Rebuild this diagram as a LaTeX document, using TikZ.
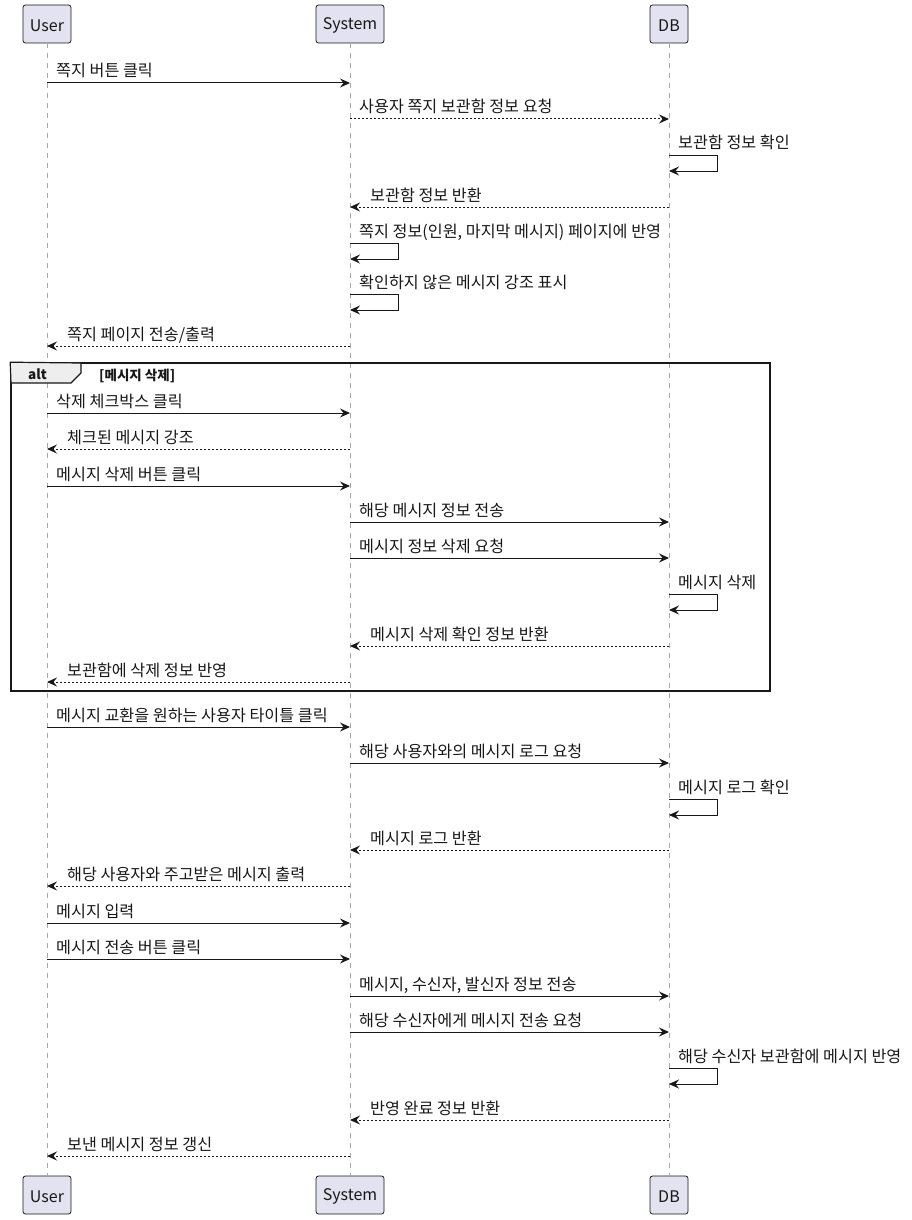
\documentclass[tikz,border=0pt]{standalone}
\usepackage{fontspec}
\setmainfont{Noto Sans CJK KR}
\usetikzlibrary{arrows.meta}
\definecolor{ink}{HTML}{181818}
\definecolor{partfill}{HTML}{E2E2F0}
\definecolor{lifegray}{HTML}{A8A8A8}
\definecolor{tabfill}{HTML}{EEEEEE}
\tikzset{
  part/.style={draw=ink, fill=partfill, rounded corners=2.5pt, line width=0.8pt, inner sep=0pt, text=ink},
  plabel/.style={inner sep=0pt, font=\fontsize{16}{18}\selectfont, text=ink},
  life/.style={draw=lifegray, line width=0.9pt, dash pattern=on 5pt off 5pt},
  solidmsg/.style={draw=ink, line width=1pt, -{Stealth[length=10pt,width=9pt,inset=3.5pt]}},
  dashmsg/.style={draw=ink, line width=1pt, dash pattern=on 2pt off 2pt, -{Stealth[length=10pt,width=9pt,inset=3.5pt]}},
  lbl/.style={anchor=base west, inner sep=0pt, font=\fontsize{16.2}{18}\selectfont, text=ink},
}
\newcommand\msgR[6]{%
  \coordinate (#1s) at (#2,#4);
  \coordinate (#1e) at (#3,#4);
  \draw[#5] (#1s) -- (#1e);
  \node[lbl] (#1t) at (#2+9,#4-6) {#6};
}
\newcommand\msgL[6]{%
  \coordinate (#1s) at (#2,#4);
  \coordinate (#1e) at (#3,#4);
  \draw[#5] (#1s) -- (#1e);
  \node[lbl] (#1t) at (#3+20,#4-6) {#6};
}
\newcommand\selfmsg[4]{%
  \coordinate (#1s) at (#2,#3);
  \coordinate (#1e) at (#2,#3+16);
  \draw[solidmsg] (#1s) -- ++(48,0) |- (#1e);
  \node[lbl] (#1t) at (#2+9,#3-6) {#4};
}
\newcommand\participant[5]{% name, x, y, width, text
  \node[part, minimum width=#4pt, minimum height=38pt] (#1) at (#2,#3) {};
  \node[plabel] (#1l) at (#2,#3+1.5) {#5};
}
\begin{document}
\begin{tikzpicture}[x=1pt,y=-1pt]
\useasboundingbox (0,0) rectangle (911,1220);
% participants
\participant{ut}{47}{24}{48}{User}
\participant{st}{350}{24}{68}{System}
\participant{dt}{669}{24}{38}{DB}
\participant{ub}{47}{1195}{48}{User}
\participant{sb}{350}{1195}{68}{System}
\participant{db}{669}{1195}{38}{DB}
\draw[life] (ut.south) -- (ub.north);
\draw[life] (st.south) -- (sb.north);
\draw[life] (dt.south) -- (db.north);
% messages
\msgR{m1}{47}{350}{83}{solidmsg}{쪽지 버튼 클릭}
\msgR{m2}{350}{669}{119}{dashmsg}{사용자 쪽지 보관함 정보 요청}
\selfmsg{m3}{669}{155}{보관함 정보 확인}
\msgL{m4}{669}{350}{207}{dashmsg}{보관함 정보 반환}
\selfmsg{m5}{350}{243}{쪽지 정보(인원, 마지막 메시지) 페이지에 반영}
\selfmsg{m6}{350}{294}{확인하지 않은 메시지 강조 표시}
\msgL{m7}{350}{47}{346}{dashmsg}{쪽지 페이지 전송/출력}
% alt frame
\node[draw=ink, line width=1.6pt, minimum width=759pt, minimum height=328pt, inner sep=0pt] (alt) at (390.5,527) {};
\draw[draw=ink, line width=1.2pt, fill=tabfill] (alt.north west) -- (81,363) -- (81,373) -- (71,383) -- (11,383) -- cycle;
\node[anchor=base west, inner sep=0pt, font=\fontsize{13.5}{14}\selectfont\bfseries, text=ink] (altl) at (28,379) {alt};
\node[anchor=base west, inner sep=0pt, font=\fontsize{13.5}{14}\selectfont\bfseries, text=ink] (altc) at (99,380) {[메시지 삭제]};
\msgR{m8}{47}{350}{413}{solidmsg}{삭제 체크박스 클릭}
\msgL{m9}{350}{47}{449}{dashmsg}{체크된 메시지 강조}
\msgR{m10}{47}{350}{486}{solidmsg}{메시지 삭제 버튼 클릭}
\msgR{m11}{350}{669}{522}{solidmsg}{해당 메시지 정보 전송}
\msgR{m12}{350}{669}{558}{solidmsg}{메시지 정보 삭제 요청}
\selfmsg{m13}{669}{594}{메시지 삭제}
\msgL{m14}{669}{350}{646}{dashmsg}{메시지 삭제 확인 정보 반환}
\msgL{m15}{350}{47}{682}{dashmsg}{보관함에 삭제 정보 반영}
% after alt
\msgR{m16}{47}{350}{727}{solidmsg}{메시지 교환을 원하는 사용자 타이틀 클릭}
\msgR{m17}{350}{669}{763}{solidmsg}{해당 사용자와의 메시지 로그 요청}
\selfmsg{m18}{669}{799}{메시지 로그 확인}
\msgL{m19}{669}{350}{850}{dashmsg}{메시지 로그 반환}
\msgL{m20}{350}{47}{886}{dashmsg}{해당 사용자와 주고받은 메시지 출력}
\msgR{m21}{47}{350}{923}{solidmsg}{메시지 입력}
\msgR{m22}{47}{350}{959}{solidmsg}{메시지 전송 버튼 클릭}
\msgR{m23}{350}{669}{996}{solidmsg}{메시지, 수신자, 발신자 정보 전송}
\msgR{m24}{350}{669}{1032}{solidmsg}{해당 수신자에게 메시지 전송 요청}
\selfmsg{m25}{669}{1068}{해당 수신자 보관함에 메시지 반영}
\msgL{m26}{669}{350}{1120}{dashmsg}{반영 완료 정보 반환}
\msgL{m27}{350}{47}{1156}{dashmsg}{보낸 메시지 정보 갱신}
\end{tikzpicture}
\end{document}
